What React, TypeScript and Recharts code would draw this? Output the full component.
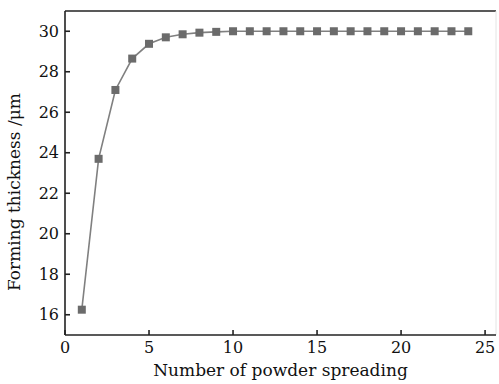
import React from "react";
import { LineChart, Line, XAxis, YAxis, ReferenceLine } from "recharts";

const spreads = [1, 2, 3, 4, 5, 6, 7, 8, 9, 10, 11, 12, 13, 14, 15, 16, 17, 18, 19, 20, 21, 22, 23, 24];
const thickness = [
  16.25, 23.7, 27.1, 28.65, 29.38, 29.7, 29.85, 29.93, 29.97, 30, 30, 30, 30, 30, 30, 30, 30, 30, 30,
  30, 30, 30, 30, 30,
];
const xTicks = [0, 5, 10, 15, 20, 25];
const yTicks = [16, 18, 20, 22, 24, 26, 28, 30];

const data = spreads.map((x, i) => ({ x, y: thickness[i] }));

const font = "'DejaVu Serif', serif";
const axisColor = "#222";

function SquareDot(props: any) {
  const { cx, cy, index } = props;
  if (cx == null || cy == null) return null;
  return <rect key={index} x={cx - 4} y={cy - 4} width={8} height={8} fill="#6b6b6b" />;
}

export default function App() {
  return (
    <div style={{ position: "absolute", left: 0, top: 0, background: "#fff" }}>
      <LineChart width={499} height={384} data={data} margin={{ top: 11, right: 3, left: 0, bottom: 0 }}>
        <XAxis
          dataKey="x"
          type="number"
          domain={[0, 25.65]}
          ticks={xTicks}
          allowDataOverflow
          height={49}
          stroke={axisColor}
          strokeWidth={1.6}
          tickSize={-5}
          tickMargin={12}
          tick={{ fontSize: 16, fill: "#111", fontFamily: font }}
          label={{
            value: "Number of powder spreading",
            position: "insideBottom",
            offset: 8,
            fontSize: 17,
            fill: "#111",
            fontFamily: font,
          }}
        />
        <YAxis
          type="number"
          domain={[15, 31]}
          ticks={yTicks}
          allowDataOverflow
          width={65}
          stroke={axisColor}
          strokeWidth={1.6}
          tickSize={-5}
          tickMargin={11}
          tick={{ fontSize: 16, fill: "#111", fontFamily: font }}
          label={{
            value: "Forming thickness /μm",
            angle: -90,
            position: "insideLeft",
            offset: 14,
            fontSize: 17,
            fill: "#111",
            fontFamily: font,
            dy: 118,
          }}
        />
        <ReferenceLine y={31} stroke={axisColor} strokeWidth={1.6} />
        <ReferenceLine x={25.65} stroke="#e4e4e4" strokeWidth={1} />
        <Line
          dataKey="y"
          type="linear"
          stroke="#808080"
          strokeWidth={1.6}
          dot={<SquareDot />}
          activeDot={false}
          isAnimationActive={false}
        />
      </LineChart>
    </div>
  );
}
